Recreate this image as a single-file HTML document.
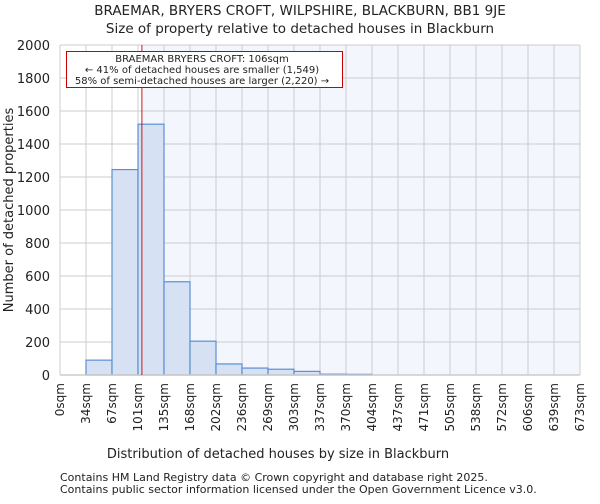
<!DOCTYPE html>
<html><head><meta charset="utf-8"><style>
body{margin:0;background:#fff;font-family:"DejaVu Sans","Liberation Sans",sans-serif}
svg text{font-family:"DejaVu Sans","Liberation Sans",sans-serif;fill:#222}
</style></head><body>
<svg id="c" width="600" height="500">
<text x="300" y="15" text-anchor="middle" font-size="13.5">BRAEMAR, BRYERS CROFT, WILPSHIRE, BLACKBURN, BB1 9JE</text>
<text x="300" y="33" text-anchor="middle" font-size="13.5">Size of property relative to detached houses in Blackburn</text>
<g id="plot"></g>
<text x="278" y="458" text-anchor="middle" font-size="13">Distribution of detached houses by size in Blackburn</text>
<text transform="translate(13,210) rotate(-90)" text-anchor="middle" font-size="13">Number of detached properties</text>
<text x="60" y="481" font-size="11">Contains HM Land Registry data © Crown copyright and database right 2025.</text>
<text x="60" y="493" font-size="11">Contains public sector information licensed under the Open Government Licence v3.0.</text>
</svg>
<script>
const binLabels=["0sqm","34sqm","67sqm","101sqm","135sqm","168sqm","202sqm","236sqm","269sqm","303sqm","337sqm","370sqm","404sqm","437sqm","471sqm","505sqm","538sqm","572sqm","606sqm","639sqm","673sqm"];
const counts=[0,90,1245,1520,565,205,67,42,35,22,5,4,0,0,0,0,0,0,0,0];
const yTicks=[0,200,400,600,800,1000,1200,1400,1600,1800,2000];
const markerSqm=106;
const binWidthSqm=33.65;
const L=60,R=580,T=45,B=375,yMax=2000;
const NS="http://www.w3.org/2000/svg";
const g=document.getElementById('plot');
const bw=(R-L)/counts.length;
const xs=v=>L+v/binWidthSqm*bw;
const ys=v=>B-v/yMax*(B-T);
function el(t,a){const e=document.createElementNS(NS,t);for(const k in a)e.setAttribute(k,a[k]);g.appendChild(e);return e;}
const mx=xs(markerSqm);
const bgL=el('rect',{x:L,y:T,width:mx-L,height:B-T,fill:'#ffffff'});


const bgR=el('rect',{x:mx,y:T,width:R-mx,height:B-T,fill:'#f3f6fd'});


yTicks.forEach(t=>{
 const l=el('line',{x1:L,x2:R,y1:ys(t),y2:ys(t),stroke:'#cccccc','stroke-width':1});
 
 
 const tx=el('text',{x:L-10,y:ys(t)+5,'text-anchor':'end','font-size':13});
 tx.textContent=t;
 
 
});
binLabels.forEach((s,i)=>{
 const x=L+i*bw;
 const l=el('line',{x1:x,x2:x,y1:T,y2:B,stroke:'#cccccc','stroke-width':1});
 
 
 const tx=el('text',{x:x+4,y:B+8,'text-anchor':'end','font-size':12,transform:`rotate(-90 ${x+4} ${B+8})`});
 tx.textContent=s;
 
 
});
counts.forEach((c,i)=>{
 if(c<=0)return;
 const r=el('rect',{x:L+i*bw,y:ys(c),width:bw,height:B-ys(c),fill:'#d6e1f3',stroke:'#5b8fd6','stroke-width':1.2});
 
 
});
const ax=el('line',{x1:L,x2:R,y1:B,y2:B,stroke:'#cccccc','stroke-width':1.5});


const ml=el('line',{x1:mx,x2:mx,y1:T,y2:B,stroke:'#cc0000','stroke-width':0.9});


const box=el('rect',{x:66.5,y:51.5,width:276,height:36,fill:'#fff',stroke:'#cc0000','stroke-width':1});


["BRAEMAR BRYERS CROFT: 106sqm","← 41% of detached houses are smaller (1,549)","58% of semi-detached houses are larger (2,220) →"].forEach((s,i)=>{
 const t=el('text',{x:202,y:62+i*11,'text-anchor':'middle','font-size':10});
 t.textContent=s;
 
 
});
</script>
</body></html>
